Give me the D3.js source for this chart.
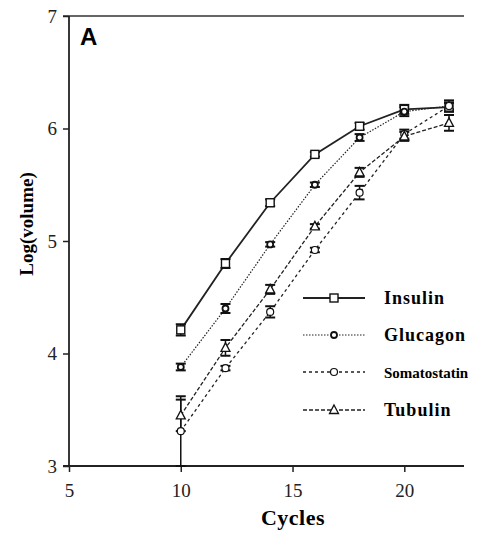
<!DOCTYPE html>
<html>
<head>
<meta charset="utf-8">
<script src="https://cdn.jsdelivr.net/npm/d3@7"></script>
<style>
  body { margin: 0; background: #fff; }
  svg { display: block; }
</style>
</head>
<body>
<div id="chart"></div>
<script>
// cycles on the x axis
const cycles = [10, 12, 14, 16, 18, 20, 22];

// log(volume) per series
const insulin = [4.21, 4.80, 5.34, 5.77, 6.02, 6.17, 6.19];
const glucagon = [3.88, 4.40, 4.97, 5.50, 5.92, 6.15, 6.20];
const somatostatin = [3.31, 3.87, 4.37, 4.92, 5.43, 5.95, 6.20];
const tubulin = [3.45, 4.05, 4.57, 5.13, 5.61, 5.93, 6.05];

// error bar half widths
const insulinErr = [0.05, 0.04, 0.03, 0.02, 0.03, 0.04, 0.04];
const glucagonErr = [0.03, 0.04, 0.02, 0.02, 0.03, 0.04, 0.05];
const somatostatinErr = [0.31, 0.02, 0.05, 0.02, 0.06, 0.04, 0.03];
const tubulinErr = [0.14, 0.07, 0.04, 0.02, 0.04, 0.04, 0.07];

const seriesNames = ['Insulin', 'Glucagon', 'Somatostatin', 'Tubulin'];
const xTicks = [5, 10, 15, 20];
const yTicks = [3, 4, 5, 6, 7];

const series = [
    { name: seriesNames[0], values: insulin, err: insulinErr, marker: 'square', dash: null, width: 1.8 },
    { name: seriesNames[1], values: glucagon, err: glucagonErr, marker: 'dot', dash: '1.5,1.5', width: 1.2 },
    { name: seriesNames[2], values: somatostatin, err: somatostatinErr, marker: 'circle', dash: '3,3', width: 1.3 },
    { name: seriesNames[3], values: tubulin, err: tubulinErr, marker: 'triangle', dash: '4,2', width: 1.3 }
];

const width = 477, height = 533;
const serif = "'Liberation Serif', 'Times New Roman', serif";

const svg = d3.select('#chart').append('svg')
    .attr('width', width)
    .attr('height', height);

// scales
const x = d3.scaleLinear().domain([5, 22]).range([69, 449]);
const y = d3.scaleLinear().domain([3, 7]).range([466, 16]);

// top frame line
svg.append('line')
    .attr('x1', 63).attr('x2', 464)
    .attr('y1', y(7)).attr('y2', y(7))
    .attr('stroke', '#666').attr('stroke-width', 2);

// x axis
const xAxis = svg.append('g')
    .attr('transform', 'translate(0,' + y(3) + ')')
    .call(d3.axisBottom(x).tickValues(xTicks).tickFormat(d3.format('d')).tickSize(6).tickPadding(12));
xAxis.select('.domain').attr('d', 'M63,0H464').attr('stroke', '#222').attr('stroke-width', 2);
xAxis.selectAll('.tick line').attr('stroke', '#222').attr('stroke-width', 1.5);

// y axis
const yAxis = svg.append('g')
    .attr('transform', 'translate(' + x(5) + ',0)')
    .call(d3.axisLeft(y).tickValues(yTicks).tickFormat(d3.format('d')).tickSize(6).tickPadding(6));
yAxis.select('.domain').attr('d', 'M0,' + y(7) + 'V' + y(3)).attr('stroke', '#222').attr('stroke-width', 1.8);
yAxis.selectAll('.tick line').attr('stroke', '#222').attr('stroke-width', 1.5);

svg.selectAll('.tick text')
    .attr('font-family', serif)
    .style('font-family', serif)
    .style('font-size', '19px')
    .attr('fill', '#222');

// panel letter
svg.append('text')
    .attr('x', 80).attr('y', 45)
    .style('font-family', "'Liberation Sans', sans-serif")
    .style('font-weight', 'bold')
    .style('font-size', '24px')
    .text('A');

// axis titles
svg.append('text')
    .attr('transform', 'translate(33,224) rotate(-90)')
    .attr('text-anchor', 'middle')
    .style('font-family', serif)
    .style('font-weight', 'bold')
    .style('font-size', '19px')
    .text('Log(volume)');

svg.append('text')
    .attr('x', 293).attr('y', 525)
    .attr('text-anchor', 'middle')
    .style('font-family', serif)
    .style('font-weight', 'bold')
    .style('font-size', '22px')
    .style('letter-spacing', '0.5px')
    .text('Cycles');

const line = d3.line()
    .x((d, i) => x(cycles[i]))
    .y(d => y(d));

function drawMarker(g, type, cx, cy) {
    if (type === 'square') {
        g.append('rect').attr('x', cx - 4).attr('y', cy - 4).attr('width', 8).attr('height', 8)
            .attr('fill', '#fff').attr('stroke', '#111').attr('stroke-width', 1.4);
    } else if (type === 'dot') {
        g.append('circle').attr('cx', cx).attr('cy', cy).attr('r', 3)
            .attr('fill', '#fff').attr('stroke', '#111').attr('stroke-width', 1.8);
    } else if (type === 'circle') {
        g.append('circle').attr('cx', cx).attr('cy', cy).attr('r', 3.5)
            .attr('fill', '#fff').attr('stroke', '#111').attr('stroke-width', 1.2);
    } else {
        g.append('path')
            .attr('d', 'M' + cx + ',' + (cy - 5) + 'L' + (cx + 4.5) + ',' + (cy + 3.5) + 'L' + (cx - 4.5) + ',' + (cy + 3.5) + 'Z')
            .attr('fill', '#fff').attr('stroke', '#111').attr('stroke-width', 1.3);
    }
}

const plot = svg.append('g');

series.forEach(s => {
    plot.append('path')
        .datum(s.values)
        .attr('d', line)
        .attr('fill', 'none')
        .attr('stroke', '#222')
        .attr('stroke-width', s.width)
        .attr('stroke-dasharray', s.dash);
});

// error bars
series.forEach(s => {
    const g = plot.append('g');
    s.values.forEach((v, i) => {
        const cx = x(cycles[i]);
        const top = y(v + s.err[i]), bot = y(v - s.err[i]);
        g.append('line').attr('x1', cx).attr('x2', cx).attr('y1', top).attr('y2', bot)
            .attr('stroke', '#111').attr('stroke-width', 1.5);
        [top, bot].forEach(yy => {
            g.append('line').attr('x1', cx - 5).attr('x2', cx + 5).attr('y1', yy).attr('y2', yy)
                .attr('stroke', '#111').attr('stroke-width', 2);
        });
    });
});

// markers
series.forEach(s => {
    const g = plot.append('g');
    s.values.forEach((v, i) => drawMarker(g, s.marker, x(cycles[i]), y(v)));
});

// legend
const legendY = [298, 335, 372, 410];
const legendX = 303, labelOffset = 81;
series.forEach((s, i) => {
    const g = svg.append('g').attr('transform', 'translate(' + legendX + ',' + legendY[i] + ')');
    g.append('line').attr('x1', 0).attr('x2', 62).attr('y1', 0).attr('y2', 0)
        .attr('stroke', '#222').attr('stroke-width', s.width).attr('stroke-dasharray', s.dash);
    drawMarker(g, s.marker, 31, 0);
    const label = g.append('text')
        .attr('x', labelOffset).attr('y', 6)
        .style('font-family', serif)
        .style('font-weight', 'bold')
        .style('font-size', '18px')
        .style('letter-spacing', '1px')
        .text(s.name);
    // long labels get a smaller font so they stay inside the picture
    const room = width - legendX - labelOffset - 8;
    if (label.node().getComputedTextLength() > room) {
        label.style('letter-spacing', '0px').style('font-size', '15px');
    }
});
</script>
</body>
</html>
